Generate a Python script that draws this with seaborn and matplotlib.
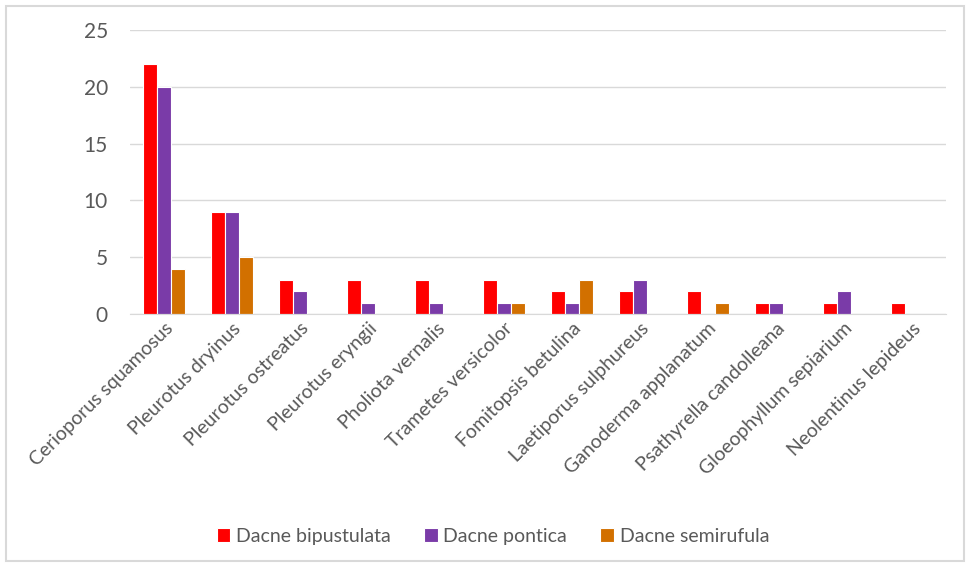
import matplotlib
matplotlib.use("Agg")
import matplotlib.pyplot as plt
import seaborn as sns
import pandas as pd

# === DATA ===
species = [
    "Cerioporus squamosus", "Pleurotus dryinus", "Pleurotus ostreatus",
    "Pleurotus eryngii", "Pholiota vernalis", "Trametes versicolor",
    "Fomitopsis betulina", "Laetiporus sulphureus", "Ganoderma applanatum",
    "Psathyrella candolleana", "Gloeophyllum sepiarium", "Neolentinus lepideus",
]
bipustulata = [22, 9, 3, 3, 3, 3, 2, 2, 2, 1, 1, 1]
pontica = [20, 9, 2, 1, 1, 1, 1, 3, 0, 1, 2, 0]
semirufula = [4, 5, 0, 0, 0, 1, 3, 0, 1, 0, 0, 0]
series_names = ["Dacne bipustulata", "Dacne pontica", "Dacne semirufula"]
colors = ["#FF0000", "#7A3BA8", "#D27000"]

rows = []
for name, vals in zip(series_names, [bipustulata, pontica, semirufula]):
    for sp, v in zip(species, vals):
        rows.append({"species": sp, "beetle": name, "count": v})
df = pd.DataFrame(rows)

# === PLOT ===
sns.set_style("white")
plt.rcParams["font.family"] = ["Lato", "DejaVu Sans"]

fig = plt.figure(figsize=(9.7, 5.66), dpi=100)
ax = fig.add_axes([0.134, 0.445, 0.841, 0.502])

sns.barplot(data=df, x="species", y="count", hue="beetle", palette=colors,
            saturation=1, width=0.62, edgecolor="white", linewidth=0.8, ax=ax)

ax.set_ylim(0, 25)
ax.set_yticks([0, 5, 10, 15, 20, 25])
ax.set_xlim(-0.5, len(species) - 0.5)
ax.yaxis.grid(True, color="#D9D9D9", linewidth=1)
ax.set_axisbelow(True)
for side in ["top", "right", "left"]:
    ax.spines[side].set_visible(False)
ax.spines["bottom"].set_color("#D9D9D9")
ax.set_xlabel("")
ax.set_ylabel("")
ax.tick_params(axis="y", length=0, pad=16, labelsize=15, labelcolor="#595959")
ax.tick_params(axis="x", length=0, pad=4, labelsize=14, labelcolor="#595959")
plt.setp(ax.get_xticklabels(), rotation=45, ha="right", rotation_mode="anchor")

ax.legend(loc="upper center", bbox_to_anchor=(0.445, -0.69), ncol=3, frameon=False,
          fontsize=14, labelcolor="#595959", handlelength=0.7, handleheight=0.7,
          handletextpad=0.3, columnspacing=1.7)

# outer frame like the original chart area border
fig.patches.append(plt.Rectangle((0.006, 0.008), 0.988, 0.982, transform=fig.transFigure,
                                 fill=False, edgecolor="#D9D9D9", linewidth=1.5))

fig.savefig("out.png", dpi=100)
